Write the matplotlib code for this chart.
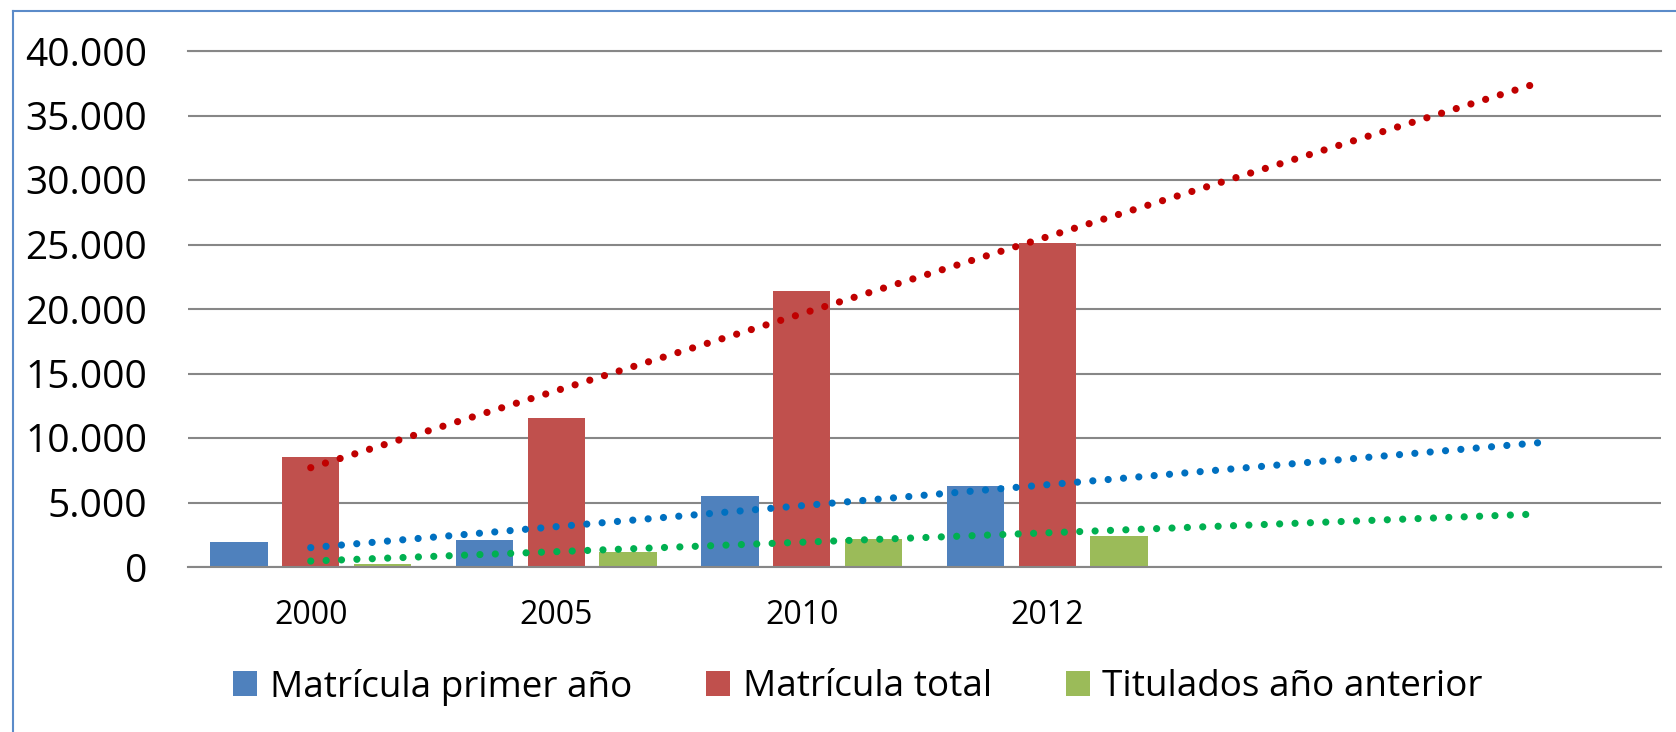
import matplotlib.pyplot as plt
import numpy as np
from matplotlib.ticker import FuncFormatter
from matplotlib.lines import Line2D

plt.rcParams["font.family"] = ["Open Sans", "DejaVu Sans"]

# Datos
anios = ["2000", "2005", "2010", "2012"]
matricula_primer = [1940, 2090, 5500, 6300]
matricula_total = [8520, 11550, 21400, 25150]
titulados = [230, 1190, 2150, 2430]

# Líneas de tendencia: valor en 2000 y al final del pronóstico (2 periodos adelante)
periodos_pronostico = 2
tend_primer = [1500, 9630]
tend_total = [7700, 37530]
tend_titulados = [460, 4110]

colores_barras = ["#4F81BD", "#C0504D", "#9BBB59"]
colores_tend = ["#0070C0", "#C00000", "#00B050"]


def miles(v, pos):
    # separador de miles con punto
    return f"{v:,.0f}".replace(",", ".")


fig = plt.figure(figsize=(16.76, 7.32), dpi=100)
ax = fig.add_axes([188 / 1676, 165 / 732, 1473 / 1676, 516 / 732])

x = np.arange(len(anios))
ancho = 0.234
sep = 0.293

ax.bar(x - sep, matricula_primer, ancho, color=colores_barras[0], label="Matrícula primer año", zorder=2)
ax.bar(x, matricula_total, ancho, color=colores_barras[1], label="Matrícula total", zorder=2)
ax.bar(x + sep, titulados, ancho, color=colores_barras[2], label="Titulados año anterior", zorder=2)

# Tendencias punteadas
x_tend = [0, len(anios) - 1 + periodos_pronostico]
for tend, color in zip([tend_primer, tend_total, tend_titulados], colores_tend):
    ax.plot(x_tend, tend, color=color, lw=5.2, linestyle=(0, (0.001, 2.13)),
            dash_capstyle="round", zorder=3)

ax.set_xlim(-0.5, len(anios) - 0.5 + periodos_pronostico)
ax.set_ylim(0, 40000)
ax.set_yticks(np.arange(0, 40001, 5000))
ax.yaxis.set_major_formatter(FuncFormatter(miles))
ax.set_xticks(x)
ax.set_xticklabels(anios)

ax.grid(axis="y", color="#878787", lw=1.5, zorder=1)
ax.set_axisbelow(True)
for lado in ["left", "right"]:
    ax.spines[lado].set_visible(False)
for lado in ["top", "bottom"]:
    ax.spines[lado].set_color("#878787")
    ax.spines[lado].set_linewidth(1.5)

ax.tick_params(axis="y", length=0, pad=29.5, labelsize=28)
ax.tick_params(axis="x", length=0, pad=23, labelsize=23)

fig.legend(loc="center", bbox_to_anchor=(0.5118, 45 / 732), ncol=3, frameon=False,
           fontsize=26.6, handlelength=0.665, handleheight=0.665, handletextpad=0.33,
           columnspacing=2.0, borderpad=0)

# Borde azul del área del gráfico
borde = "#5B8BC9"
fig.add_artist(Line2D([12.5 / 1676, 12.5 / 1676], [0, 721 / 732], color=borde, lw=1.5))
fig.add_artist(Line2D([12.5 / 1676, 1], [721 / 732, 721 / 732], color=borde, lw=1.5))

plt.savefig("out.png", dpi=100)
